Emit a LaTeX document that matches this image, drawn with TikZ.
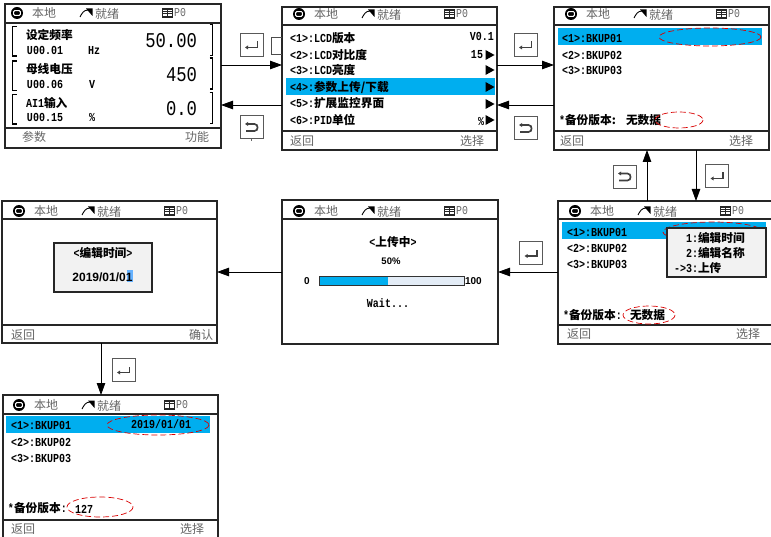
\documentclass[tikz,border=0pt]{standalone}
\usepackage{fontspec}
\usetikzlibrary{arrows.meta}
\setmainfont{Liberation Mono}
\newfontfamily\cjfont{Noto Sans CJK SC}
\newfontfamily\arfont{Liberation Sans}
\newfontfamily\ltfont[FakeStretch=0.82]{Liberation Mono}
\newcommand\Cj[1]{{\fontsize{11.7}{12}\selectfont\cjfont\bfseries #1}}
\newcommand\Lt[1]{{\fontsize{12.2}{12}\selectfont\ltfont\bfseries #1}}
\newcommand\Ar[2][10]{{\fontsize{#1}{12}\selectfont\arfont\bfseries #2}}
\newcommand\Bignum[1]{{\fontsize{21}{22}\selectfont\ltfont #1}}
\newcounter{tn}
\newcommand\T[4]{\stepcounter{tn}\node[#3,name=t\arabic{tn}] at (#1,#2) {#4};}
\definecolor{hl}{HTML}{00AEEF}
\definecolor{gt}{HTML}{666666}
\definecolor{pop}{HTML}{F2F2F2}
\definecolor{barbg}{HTML}{E3ECF6}
\tikzset{
 x=1pt,y=-1pt,
 panel/.style={draw=black!85,line width=1.3pt,inner sep=0pt,outer sep=0pt},
 sep/.style={draw=black!85,line width=1.1pt},
 tl/.style={anchor=west,inner sep=0pt,outer sep=0pt},
 tr/.style={anchor=east,inner sep=0pt,outer sep=0pt},
 tc/.style={anchor=center,inner sep=0pt,outer sep=0pt},
 foot/.style={tc,text=gt,font=\fontsize{12}{12}\selectfont\cjfont},
 flow/.style={draw=black,line width=0.8pt,-{Triangle[length=12pt,width=8.5pt]}},
 oval/.style={draw=red!85!black,line width=0.7pt,dash pattern=on 6pt off 3pt},
 bar/.style={line width=1.1pt,draw=black},
 keybox/.style={draw=black!65,line width=1pt,fill=white,minimum width=23pt,minimum height=23pt,inner sep=0pt,outer sep=0pt},
 enterkey/.style={keybox,path picture={
   \draw[line width=1.7pt,black!75] ([shift={(-5,2.5)}]path picture bounding box.center) -- ([shift={(6,2.5)}]path picture bounding box.center) -- ([shift={(6,-3.5)}]path picture bounding box.center);
   \fill[black!75] ([shift={(-6.5,2.5)}]path picture bounding box.center) -- ([shift={(-3.5,0.5)}]path picture bounding box.center) -- ([shift={(-3.5,4.5)}]path picture bounding box.center) -- cycle;}},
 backkey/.style={keybox,path picture={
   \draw[line width=1.7pt,black!75] ([shift={(-5,-3.5)}]path picture bounding box.center) -- ([shift={(3,-3.5)}]path picture bounding box.center) to[out=0,in=0,looseness=1.5] ([shift={(3,3.5)}]path picture bounding box.center) -- ([shift={(-5.5,3.5)}]path picture bounding box.center);
   \fill[black!75] ([shift={(-6.5,-3.5)}]path picture bounding box.center) -- ([shift={(-3.5,-5.5)}]path picture bounding box.center) -- ([shift={(-3.5,-1.5)}]path picture bounding box.center) -- cycle;}},
 hdr/.pic={
   \fill[black] (0,0) circle (6);
   \draw[white,line width=1pt,rounded corners=1pt,fill=black] (-3.4,-2.3) rectangle (3.4,2.3);
   \node[foot,name=-loc] at (27,0) {本地};
   \draw[black,line width=0.9pt] (63,4) .. controls (65,0) and (67,-3) .. (71,-3);
   \fill[black] (69,-4.5) -- (75.5,-4.5) -- (75.5,3) -- cycle;
   \node[foot,name=-rdy] at (90,1) {就绪};
   \fill[black!85] (145,-5) rectangle (156,5);
   \foreach \yy in {-3.2,-0.9,1.4}{\fill[white] (146,\yy) rectangle (149.5,\yy+1.4);\fill[white] (150.5,\yy) rectangle (155,\yy+1.4);}
   \node[tc,text=gt,font=\fontsize{12}{12}\selectfont\ltfont,name=-pz] at (163,0) {P0};
 },
 mtri/.pic={\fill[black] (-4.5,-5) -- (4.5,0) -- (-4.5,5) -- cycle;},
 lbrack/.pic={\draw[bar] (4,0) -- (0,0) -- (0,29.5) -- (4,29.5);},
 rbrack/.pic={\draw[bar] (-3,0) -- (0,0) -- (0,31) -- (-3,31);}
}
\newcommand\Panel[5]{\node[panel,minimum width=#4pt-#2pt,minimum height=#5pt-#3pt] (#1) at ({(#2+#4)/2},{(#3+#5)/2}) {};}
\newcommand\Seps[3]{\draw[sep] (#1.west |- 0,#2) -- (#1.east |- 0,#2);\ifx#3x\else\draw[sep] (#1.west |- 0,#3) -- (#1.east |- 0,#3);\fi}
\begin{document}
\begin{tikzpicture}
\clip (0,0) rectangle (771,537);
\fill[white] (0,0) rectangle (771,537);
% highlights
\fill[hl] (286,78) rectangle (495,95);
\fill[hl] (558,28) rectangle (762,45);
\fill[hl] (562,222) rectangle (766,239);
\fill[hl] (6,416) rectangle (210,433);
% panels
\Panel{A}{5}{4}{221}{148}
\Panel{B}{282}{7}{497}{150}
\Panel{C}{554}{7}{769}{150}
\Panel{D}{558}{201}{775}{344}
\Panel{E}{282}{200}{498}{344}
\Panel{F}{2}{201}{217}{343}
\Panel{G}{3}{395}{218}{541}
\Seps{A}{23}{128}
\Seps{B}{25}{131}
\Seps{C}{25}{131}
\Seps{D}{219}{325}
\Seps{E}{219}{x}
\Seps{F}{219}{325}
\Seps{G}{414}{520}
% headers
\pic (ha) at (17,13) {hdr};
\pic (hb) at (299,14) {hdr};
\pic (hc) at (571,14) {hdr};
\pic (hd) at (575,211) {hdr};
\pic (he) at (299,211) {hdr};
\pic (hf) at (19,211) {hdr};
\pic (hg) at (19,405) {hdr};
% panel A
\pic at (12.5,26.5) {lbrack};
\pic at (12.5,61) {lbrack};
\pic at (12.5,94.5) {lbrack};
\pic at (212.5,24.5) {rbrack};
\pic at (212.5,58) {rbrack};
\pic at (212.5,92.5) {rbrack};
\T{26}{35}{tl}{\Cj{设定频率}}
\T{27}{50}{tl}{\Lt{U00.01}}
\T{88}{50}{tl}{\Lt{Hz}}
\T{197}{41}{tr}{\Bignum{50.00}}
\T{26}{69}{tl}{\Cj{母线电压}}
\T{27}{84}{tl}{\Lt{U00.06}}
\T{89}{84}{tl}{\Lt{V}}
\T{197}{75}{tr}{\Bignum{450}}
\T{26}{103}{tl}{\Lt{AI1}\Cj{输入}}
\T{27}{117}{tl}{\Lt{U00.15}}
\T{89}{117}{tl}{\Lt{\%}}
\T{197}{109}{tr}{\Bignum{0.0}}
\T{34}{137}{foot}{参数}
\T{197}{137}{foot}{功能}
% panel B
\T{290}{38}{tl}{\Lt{<1>:LCD}\Cj{版本}}
\T{290}{55}{tl}{\Lt{<2>:LCD}\Cj{对比度}}
\T{290}{70}{tl}{\Lt{<3>:LCD}\Cj{亮度}}
\T{290}{87}{tl}{\Lt{<4>:}\Cj{参数上传/下载}}
\T{290}{103}{tl}{\Lt{<5>:}\Cj{扩展监控界面}}
\T{290}{120}{tl}{\Lt{<6>:PID}\Cj{单位}}
\T{494}{36}{tr}{\Lt{V0.1}}
\T{483}{55}{tr}{\Lt{15}}
\T{484}{121}{tr}{\Lt{\%}}
\foreach \yy in {55,70,87,104,120}{\pic at (490,\yy) {mtri};}
\T{302}{141}{foot}{返回}
\T{472}{141}{foot}{选择}
% panel C
\T{562}{38}{tl}{\Lt{<1>:BKUP01}}
\T{562}{55}{tl}{\Lt{<2>:BKUP02}}
\T{562}{70}{tl}{\Lt{<3>:BKUP03}}
\T{559}{120}{tl}{\Lt{*}\Cj{备份版本:}}
\T{626}{120}{tl}{\Cj{无数据}}
\draw[oval] (679,120) ellipse (24 and 8);
\draw[oval] (710,37) ellipse (51 and 9);
\T{572}{141}{foot}{返回}
\T{741}{141}{foot}{选择}
% panel D
\T{567}{232}{tl}{\Lt{<1>:BKUP01}}
\T{567}{248}{tl}{\Lt{<2>:BKUP02}}
\T{567}{264}{tl}{\Lt{<3>:BKUP03}}
\draw[oval] (713,232) ellipse (50 and 10);
\fill[pop,draw=black!85,line width=1.2pt] (667,228) rectangle (766,277);
\T{686}{238}{tl}{\Lt{1:}\Cj{编辑时间}}
\T{686}{253}{tl}{\Lt{2:}\Cj{编辑名称}}
\T{674}{268}{tl}{\Lt{->3:}\Cj{上传}}
\T{563}{315}{tl}{\Lt{*}\Cj{备份版本}\Lt{:}}
\T{630}{315}{tl}{\Cj{无数据}}
\draw[oval] (649,315) ellipse (26 and 9);
\T{579}{334}{foot}{返回}
\T{748}{334}{foot}{选择}
% panel E
\T{393}{242}{tc}{\Lt{<}\Cj{上传中}\Lt{>}}
\T{391}{261}{tc}{\Ar[9.5]{50\%}}
\fill[barbg] (319,276) rectangle (464,285);
\fill[hl] (319,276) rectangle (388,285);
\draw[black!80,line width=0.8pt] (319,276) rectangle (464,285);
\T{307}{281}{tc}{\Ar{0}}
\T{465}{281}{tl}{\Ar{100}}
\T{388}{303}{tc}{\Lt{Wait...}}
% panel F
\fill[pop,draw=black!85,line width=1.2pt] (54,243) rectangle (152,292);
\T{103}{253}{tc}{\Lt{<}\Cj{编辑时间}\Lt{>}}
\fill[blue!50!cyan!60] (126.5,270) rectangle (132.5,282);
\T{132.5}{277}{tr}{\Ar[12]{2019/01/01}}
\T{23}{335}{foot}{返回}
\T{201}{335}{foot}{确认}
% panel G
\T{11}{425}{tl}{\Lt{<1>:BKUP01}}
\T{11}{442}{tl}{\Lt{<2>:BKUP02}}
\T{11}{458}{tl}{\Lt{<3>:BKUP03}}
\T{131}{424}{tl}{\Lt{2019/01/01}}
\draw[oval] (158,425) ellipse (51 and 10);
\T{8}{508}{tl}{\Lt{*}\Cj{备份版本}\Lt{:}}
\T{75}{509}{tl}{\Lt{127}}
\draw[oval] (100,507) ellipse (33 and 10);
\T{23}{529}{foot}{返回}
\T{192}{529}{foot}{选择}
% connectors
\draw[flow] (A.east |- 0,65) -- (B.west |- 0,65);
\draw[flow] (B.west |- 0,105) -- (A.east |- 0,105);
\draw[flow] (B.east |- 0,65) -- (C.west |- 0,65);
\draw[flow] (C.west |- 0,105) -- (B.east |- 0,105);
\draw[flow] (696,0 |- C.south) -- (696,0 |- D.north);
\draw[flow] (647,0 |- D.north) -- (647,0 |- C.south);
\draw[flow] (D.west |- 0,272) -- (E.east |- 0,272);
\draw[flow] (E.west |- 0,272) -- (F.east |- 0,272);
\draw[flow] (101,0 |- F.south) -- (101,0 |- G.north);
\coordinate (ba) at (271,37);
\coordinate (bb) at (271,54);
\draw[black!70,line width=0.8pt] (B.west |- ba) -- (ba) -- (bb) -- (B.west |- bb);
% keys
\node[enterkey] (k1) at (251.5,45) {};
\node[backkey] (k2) at (251.5,127.5) {};
\node[enterkey] (k3) at (525.5,45) {};
\node[backkey] (k4) at (525.5,128.5) {};
\node[backkey] (k5) at (624.5,177) {};
\node[enterkey] (k6) at (717,176) {};
\node[enterkey] (k7) at (531,253.5) {};
\node[enterkey] (k8) at (123.5,370) {};
\draw[black!60,line width=0.6pt] (k2.south) -- ++(0,2.5);
\end{tikzpicture}
\end{document}
